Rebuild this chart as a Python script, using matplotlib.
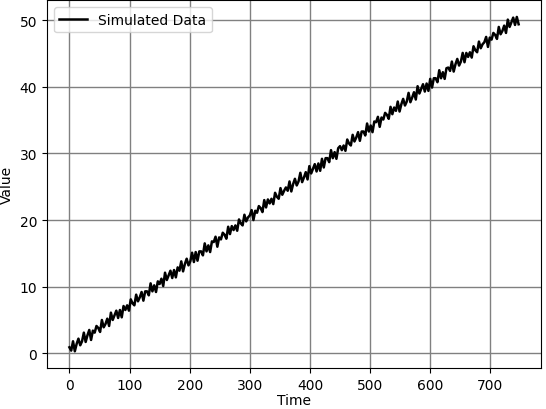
import matplotlib
matplotlib.use("Agg")
import matplotlib.pyplot as plt

time = list(range(0, 750, 3))
value = [
    0.9, 0.4, 1.8, 0.3, 1.4, 2.2, 1.2, 1.8, 3.1, 1.7,
    2.7, 3.5, 2.0, 3.4, 3.1, 4.1, 3.8, 3.2, 5.0, 3.9,
    4.4, 5.2, 4.1, 6.1, 5.0, 5.7, 6.4, 5.3, 6.5, 5.4,
    7.1, 6.5, 7.2, 6.4, 8.1, 7.5, 7.2, 8.8, 7.8, 8.4,
    9.2, 7.9, 9.3, 9.3, 8.7, 10.5, 9.3, 10.2, 9.2, 10.8,
    10.4, 11.2, 10.1, 12.1, 11.0, 11.7, 12.4, 11.3, 12.5, 11.4,
    12.9, 12.4, 13.8, 12.3, 13.4, 14.2, 13.2, 13.8, 15.1, 13.7,
    15.2, 13.9, 15.3, 15.3, 14.7, 16.5, 15.3, 16.2, 15.2, 16.8,
    16.7, 17.5, 16.0, 17.4, 17.1, 18.1, 17.8, 17.2, 19.0, 17.9,
    19.1, 18.5, 19.2, 18.4, 20.1, 19.5, 19.2, 20.8, 19.8, 20.4,
    20.7, 21.5, 20.0, 21.4, 21.1, 22.1, 21.8, 21.2, 23.0, 21.9,
    23.1, 22.5, 23.2, 22.4, 24.1, 23.5, 23.2, 24.8, 23.8, 24.4,
    24.9, 24.4, 25.8, 24.3, 25.4, 26.2, 25.2, 25.8, 27.1, 25.7,
    26.4, 27.2, 26.1, 28.1, 27.0, 27.7, 28.4, 27.3, 28.5, 27.4,
    29.2, 27.9, 29.3, 29.3, 28.7, 30.5, 29.3, 30.2, 29.2, 30.8,
    31.1, 30.5, 31.2, 30.4, 32.1, 31.5, 31.2, 32.8, 31.8, 32.4,
    33.2, 31.9, 33.3, 33.3, 32.7, 34.5, 33.3, 34.2, 33.2, 34.8,
    34.7, 35.5, 34.0, 35.4, 35.1, 36.1, 35.8, 35.2, 37.0, 35.9,
    36.9, 36.4, 37.8, 36.3, 37.4, 38.2, 37.2, 37.8, 39.1, 37.7,
    38.4, 39.2, 38.1, 40.1, 39.0, 39.7, 40.4, 39.3, 40.5, 39.4,
    41.2, 39.9, 41.3, 41.3, 40.7, 42.5, 41.3, 42.2, 41.2, 42.8,
    42.9, 42.4, 43.8, 42.3, 43.4, 44.2, 43.2, 43.8, 45.1, 43.7,
    45.1, 44.5, 45.2, 44.4, 46.1, 45.5, 45.2, 46.8, 45.8, 46.4,
    46.7, 47.5, 46.0, 47.4, 47.1, 48.1, 47.8, 47.2, 49.0, 47.9,
    48.4, 49.2, 48.1, 50.1, 49.0, 49.7, 50.4, 49.3, 50.5, 49.4,
]

fig = plt.figure(figsize=(5.46, 4.10), dpi=100)
ax = fig.add_axes([0.086, 0.10, 0.905, 0.897])

ax.plot(time, value, color="black", linewidth=1.8, label="Simulated Data")
ax.set_xlabel("Time", labelpad=1)
ax.set_ylabel("Value")
ax.set_xticks([0, 100, 200, 300, 400, 500, 600, 700])
ax.grid(True, color="gray", linewidth=1)
ax.legend(loc="upper left")

fig.savefig("out.png", dpi=100)
